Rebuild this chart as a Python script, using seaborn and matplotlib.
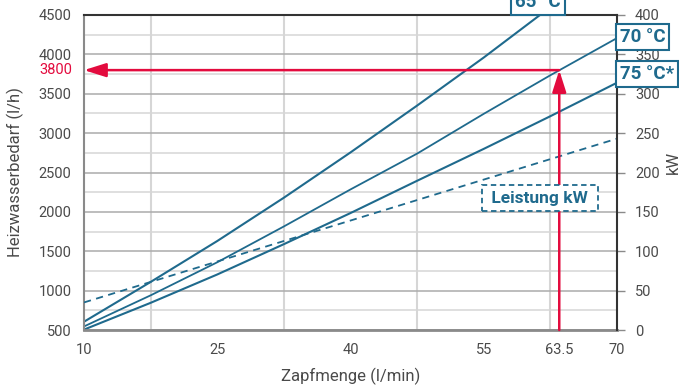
import matplotlib
matplotlib.use("Agg")
import matplotlib.pyplot as plt
import seaborn as sns

# values (left axis: l/h, right axis: kW)
zapfmenge = [10, 17.5, 25, 32.5, 40, 47.5, 55, 62.5, 70]
bedarf_65 = [605, 1110, 1630, 2180, 2755, 3350, 3960, 4600]
bedarf_70 = [545, 940, 1360, 1815, 2285, 2740, 3245, 3735, 4207]
bedarf_75 = [505, 845, 1205, 1590, 1985, 2395, 2800, 3215, 3640]
leistung_kw = [35, 61, 87, 113, 139, 165, 191, 217, 243]

x_ticks = [10, 25, 40, 55, 63.5, 70]
x_grid = [17.5, 25, 32.5, 40, 47.5, 55, 62.5]
y_ticks = list(range(500, 4501, 500))
y_minor = list(range(750, 4500, 500))
kw_ticks = list(range(0, 401, 50))
marker_x = 63.5
marker_y = 3800

BLUE = "#1f6a8d"
RED = "#e30b3e"
TEXT = "#4a4a4a"
GRID_LIGHT = "#d6d6d6"
GRID_DARK = "#ababab"

sns.set_theme(style="white")
plt.rcParams["font.family"] = ["Roboto", "DejaVu Sans"]

fig = plt.figure(figsize=(6.79, 3.88), dpi=100)
ax = fig.add_axes([84 / 679, 58 / 388, 533 / 679, 315 / 388])

sns.lineplot(x=zapfmenge[:len(bedarf_65)], y=bedarf_65, ax=ax, color=BLUE, linewidth=1.5)
sns.lineplot(x=zapfmenge, y=bedarf_70, ax=ax, color=BLUE, linewidth=1.3)
sns.lineplot(x=zapfmenge, y=bedarf_75, ax=ax, color=BLUE, linewidth=1.5)

ax.set_xlim(10, 70)
ax.set_ylim(500, 4500)
ax.set_axisbelow(True)

# ticks / grid
ax.set_xticks(x_ticks)
ax.set_xticklabels([f"{t:g}" for t in x_ticks])
ax.get_xticklabels()[x_ticks.index(marker_x)].set_color(RED)
ax.set_xticks(x_grid, minor=True)
ax.set_yticks(y_ticks)
ax.set_yticks(y_minor, minor=True)
ax.xaxis.grid(False, which="major")
ax.xaxis.grid(True, which="minor", color=GRID_LIGHT, linewidth=1.5)
ax.yaxis.grid(True, which="major", color=GRID_DARK, linewidth=1.1)
ax.yaxis.grid(True, which="minor", color=GRID_LIGHT, linewidth=1.1)
ax.tick_params(which="both", length=0)
ax.tick_params(axis="x", pad=9, labelsize=10.5, labelcolor=TEXT)
ax.tick_params(axis="y", pad=9, labelsize=10.5, labelcolor=TEXT)

ax.text(-12 / 533, marker_y, "3800", color=RED, fontsize=10.5, ha="right", va="center",
        transform=ax.get_yaxis_transform())

ax.set_xlabel("Zapfmenge (l/min)", fontsize=12, color=TEXT, va="center")
ax.xaxis.set_label_coords(0.5, -46 / 315)
ax.set_ylabel("Heizwasserbedarf (l/h)", fontsize=12, color=TEXT, va="center")
ax.yaxis.set_label_coords(-69 / 533, 0.5)

for side in ["left", "bottom"]:
    ax.spines[side].set_color("#8a8a8a")
ax.spines["left"].set_linewidth(1.5)
ax.spines["bottom"].set_linewidth(2)
ax.spines["top"].set_color("#333333")
ax.spines["top"].set_linewidth(1.5)
ax.spines["right"].set_visible(False)

# right axis: Leistung
ax2 = ax.twinx()
sns.lineplot(x=zapfmenge, y=leistung_kw, ax=ax2, color=BLUE, linewidth=1.3,
             linestyle=(0, (4, 3)))
ax2.set_ylim(0, 400)
ax2.set_yticks(kw_ticks)
ax2.tick_params(axis="y", length=6, width=1, color="#8a8a8a", pad=7,
                labelsize=10.5, labelcolor=TEXT)
ax2.set_ylabel("kW", fontsize=12, color=TEXT, rotation=90, va="center")
ax2.yaxis.set_label_coords(589 / 533, 168 / 315)
for side in ["left", "bottom", "top"]:
    ax2.spines[side].set_visible(False)
ax2.spines["right"].set_color("#333333")
ax2.spines["right"].set_linewidth(1.5)

# red reading arrows
arrow = dict(arrowstyle="-|>,head_length=0.95,head_width=0.3", color=RED, lw=1.8,
             shrinkA=0, shrinkB=0, mutation_scale=14)
ax2.annotate("", xy=(10, marker_y), xytext=(marker_x, marker_y), xycoords=ax.transData,
             textcoords=ax.transData, arrowprops=arrow, annotation_clip=False)
ax2.annotate("", xy=(marker_x, marker_y), xytext=(marker_x, 500), xycoords=ax.transData,
             textcoords=ax.transData, arrowprops=arrow, annotation_clip=False)

# labels in boxes
box = dict(boxstyle="square,pad=0.2", fc="white", ec=BLUE, lw=1.5)
for label, x, y in [("65 °C", 61.1, 4665), ("70 °C", 72.9, 4220), ("75 °C*", 73.4, 3751)]:
    ax2.text(x, y, label, transform=ax.transData, color=BLUE, fontsize=13.5,
             fontweight="bold", ha="center", va="center", bbox=box, zorder=10, clip_on=False)
ax2.text(61.3, 2176, " Leistung kW ", transform=ax.transData, color=BLUE, fontsize=12.5,
         fontweight="semibold", ha="center", va="center", zorder=10, clip_on=False,
         bbox=dict(boxstyle="square,pad=0.3", fc="white", ec=BLUE, lw=1.3, ls=(0, (3, 2))))

fig.savefig("out.png", dpi=100)
